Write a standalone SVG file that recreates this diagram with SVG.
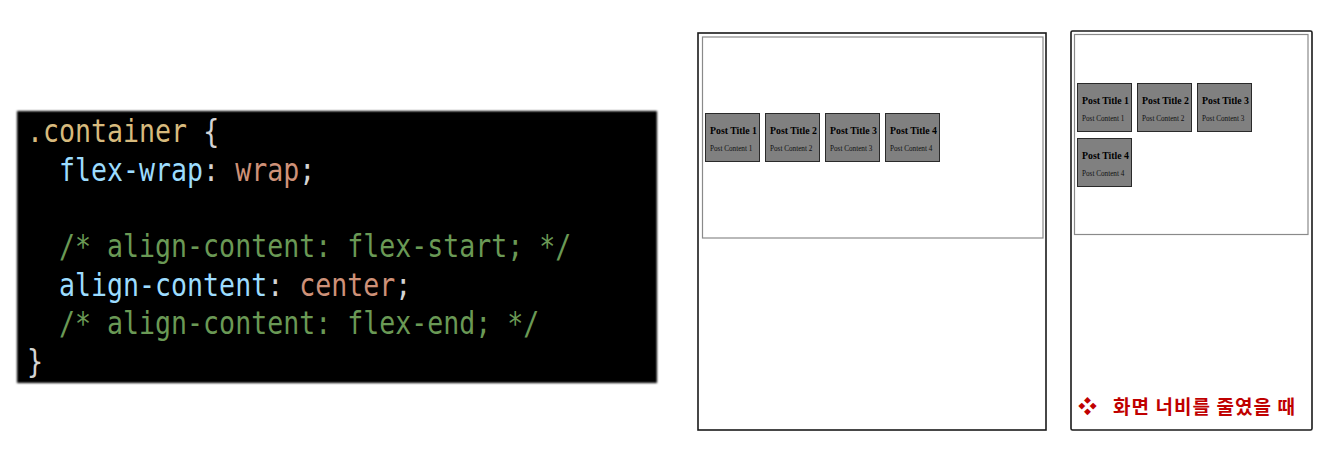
<svg xmlns="http://www.w3.org/2000/svg" width="1326" height="452" viewBox="0 0 1326 452">
  <defs>
    <filter id="soft" x="-5%" y="-5%" width="110%" height="110%">
      <feGaussianBlur stdDeviation="1.3"/>
    </filter>
  </defs>
  <style>
    .code { font-family: "DejaVu Sans Mono", "Liberation Mono", monospace; font-size: 26.6px; }
    .sel { fill: #d7ba7d; }
    .punc { fill: #d4d4d4; }
    .prop { fill: #9cdcfe; }
    .val { fill: #ce9178; }
    .cmt { fill: #6a9955; }
    .frame { fill: #ffffff; stroke: #1a1a1a; stroke-width: 1.6; }
    .inner { fill: #ffffff; stroke: #8a8a8a; stroke-width: 1.2; }
    .card { fill: #808080; stroke: #2a2a2a; stroke-width: 1; }
    .title { font-family: "Liberation Serif", "DejaVu Serif", serif; font-weight: bold; font-size: 9.8px; fill: #000000; }
    .body { font-family: "Liberation Serif", "DejaVu Serif", serif; font-size: 7.2px; fill: #111111; }
    .note { font-family: "Noto Sans CJK KR", "Noto Sans", sans-serif; font-weight: bold; font-size: 19px; fill: #c00000; }
  </style>

  <rect width="1326" height="452" fill="#ffffff"/>

  <!-- CSS code block; each line is stretched a little vertically for a tall, narrow code face -->
  <g id="code-block">
    <rect x="17" y="111" width="640" height="272" fill="#000000" filter="url(#soft)"/>
    <text class="code" transform="translate(27 142) scale(1 1.2)"><tspan class="sel">.container</tspan><tspan class="punc"> {</tspan></text>
    <text class="code" transform="translate(59 181) scale(1 1.2)"><tspan class="prop">flex-wrap</tspan><tspan class="punc">: </tspan><tspan class="val">wrap</tspan><tspan class="punc">;</tspan></text>
    <text class="code cmt" transform="translate(59 257) scale(1 1.2)">/* align-content: flex-start; */</text>
    <text class="code" transform="translate(59 296) scale(1 1.2)"><tspan class="prop">align-content</tspan><tspan class="punc">: </tspan><tspan class="val">center</tspan><tspan class="punc">;</tspan></text>
    <text class="code cmt" transform="translate(59 334) scale(1 1.2)">/* align-content: flex-end; */</text>
    <text class="code punc" transform="translate(27 372) scale(1 1.2)">}</text>
  </g>

  <!-- Wide browser view -->
  <g id="view-wide">
    <rect class="frame" x="698" y="33" width="348" height="397"/>
    <rect class="inner" x="702.5" y="37" width="340.5" height="201"/>
    <g id="wide-card-1">
      <rect class="card" x="705.5" y="113.5" width="54" height="48"/>
      <text class="title" x="710" y="134">Post Title 1</text>
      <text class="body" x="710" y="151">Post Content 1</text>
    </g>
    <g id="wide-card-2">
      <rect class="card" x="765.5" y="113.5" width="54" height="48"/>
      <text class="title" x="770" y="134">Post Title 2</text>
      <text class="body" x="770" y="151">Post Content 2</text>
    </g>
    <g id="wide-card-3">
      <rect class="card" x="825.5" y="113.5" width="54" height="48"/>
      <text class="title" x="830" y="134">Post Title 3</text>
      <text class="body" x="830" y="151">Post Content 3</text>
    </g>
    <g id="wide-card-4">
      <rect class="card" x="885.5" y="113.5" width="54" height="48"/>
      <text class="title" x="890" y="134">Post Title 4</text>
      <text class="body" x="890" y="151">Post Content 4</text>
    </g>
  </g>

  <!-- Narrow browser view -->
  <g id="view-narrow">
    <rect class="frame" x="1071" y="31" width="241" height="399" rx="1.5"/>
    <rect class="inner" x="1074.5" y="34.5" width="233.5" height="200"/>
    <g id="narrow-card-1">
      <rect class="card" x="1077.5" y="83.5" width="54" height="48"/>
      <text class="title" x="1082" y="104">Post Title 1</text>
      <text class="body" x="1082" y="121">Post Content 1</text>
    </g>
    <g id="narrow-card-2">
      <rect class="card" x="1137.5" y="83.5" width="54" height="48"/>
      <text class="title" x="1142" y="104">Post Title 2</text>
      <text class="body" x="1142" y="121">Post Content 2</text>
    </g>
    <g id="narrow-card-3">
      <rect class="card" x="1197.5" y="83.5" width="54" height="48"/>
      <text class="title" x="1202" y="104">Post Title 3</text>
      <text class="body" x="1202" y="121">Post Content 3</text>
    </g>
    <g id="narrow-card-4">
      <rect class="card" x="1077.5" y="138.5" width="54" height="48"/>
      <text class="title" x="1082" y="159">Post Title 4</text>
      <text class="body" x="1082" y="176">Post Content 4</text>
    </g>
    <text class="note" x="1078" y="414" font-size="16">❖</text>
    <text class="note" x="1113" y="414" textLength="182" lengthAdjust="spacing">화면 너비를 줄였을 때</text>
  </g>
</svg>
